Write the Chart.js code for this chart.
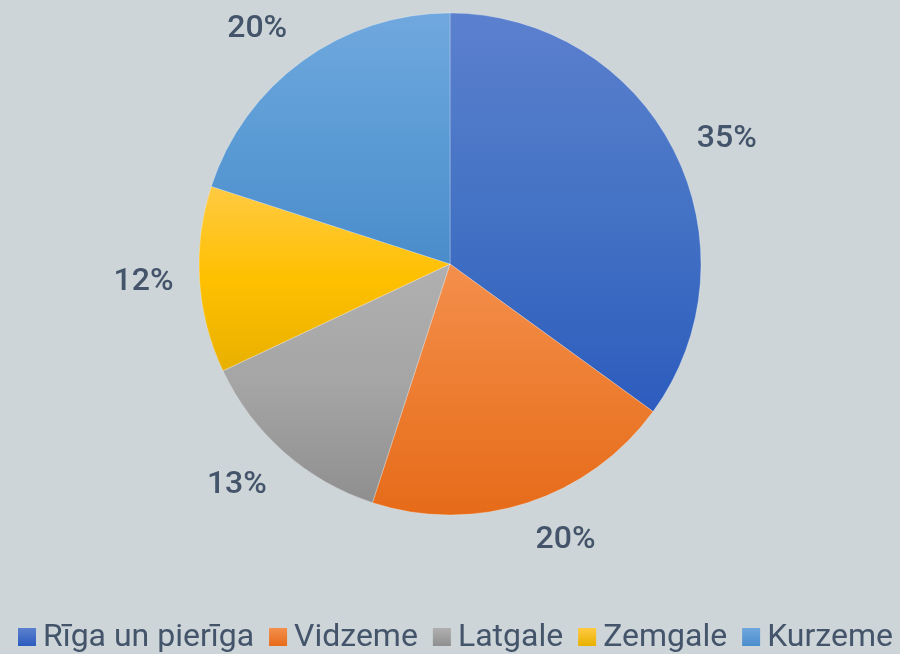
<!DOCTYPE html>
<html>
<head>
<meta charset="utf-8">
<script src="https://cdn.jsdelivr.net/npm/chart.js@4/dist/chart.umd.min.js"></script>
<style>
  html, body { margin: 0; padding: 0; background: #cdd5d8; }
  #wrap { width: 900px; height: 654px; }
</style>
</head>
<body>
<div id="wrap"><canvas id="myChart"></canvas></div>
<script>
const regions = ['Rīga un pierīga', 'Vidzeme', 'Latgale', 'Zemgale', 'Kurzeme'];
const shares = [35, 20, 13, 12, 20];
const topColors = ['#5b80ce', '#f48f4c', '#b0b0b0', '#ffca42', '#70a8de'];
const solidColors = ['#4472c4', '#ed7d31', '#a5a5a5', '#ffc000', '#5b9bd5'];
const bottomColors = ['#2c5cbe', '#e66b19', '#8f8f8f', '#e8b000', '#4a8ccb'];

const RADIUS = 251;
const textColor = '#44546a';

// vertical gradient across each slice's own height
function sliceGradient(ctx) {
    const chart = ctx.chart;
    const area = chart.chartArea;
    const i = ctx.dataIndex;
    if (!area) return solidColors[i];
    const cy = (area.top + area.bottom) / 2;
    const total = shares.reduce((a, b) => a + b, 0);
    let before = 0;
    for (let k = 0; k < i; k++) before += shares[k];
    const a0 = -Math.PI / 2 + before / total * Math.PI * 2;
    const a1 = a0 + shares[i] / total * Math.PI * 2;
    let ys = [cy, cy + RADIUS * Math.sin(a0), cy + RADIUS * Math.sin(a1)];
    [-Math.PI / 2, Math.PI / 2, Math.PI * 1.5].forEach(a => {
        if (a >= a0 && a <= a1) ys.push(cy + RADIUS * Math.sin(a));
    });
    const g = chart.ctx.createLinearGradient(0, Math.min(...ys), 0, Math.max(...ys));
    g.addColorStop(0, topColors[i]);
    g.addColorStop(0.5, solidColors[i]);
    g.addColorStop(1, bottomColors[i]);
    return g;
}

// percentages outside the pie, the label box touches a circle just outside the edge
const outsideLabels = {
    id: 'outsideLabels',
    afterDatasetsDraw(chart) {
        const ctx = chart.ctx;
        const meta = chart.getDatasetMeta(0);
        ctx.save();
        ctx.font = '500 32px Roboto';
        ctx.fillStyle = textColor;
        ctx.textAlign = 'center';
        ctx.textBaseline = 'middle';
        meta.data.forEach((arc, i) => {
            const txt = shares[i] + '%';
            const w = ctx.measureText(txt).width;
            const h = 24;
            const mid = (arc.startAngle + arc.endAngle) / 2;
            const r = arc.outerRadius + 26;
            const c = Math.cos(mid), s = Math.sin(mid);
            const dx = Math.abs(c) > 0.25 ? Math.sign(c) * w / 2 : c * w;
            const dy = Math.abs(s) > 0.6 ? Math.sign(s) * h / 2 : 0;
            ctx.fillText(txt, arc.x + r * c + dx, arc.y + r * s + dy + 1);
        });
        ctx.restore();
    }
};

// legend row at the bottom, small square then name
const bottomLegend = {
    id: 'bottomLegend',
    afterDraw(chart) {
        const ctx = chart.ctx;
        ctx.save();
        ctx.font = '32px Roboto';
        ctx.textBaseline = 'alphabetic';
        ctx.textAlign = 'left';
        const box = 18, gap = 7, space = 15;
        const widths = regions.map(t => ctx.measureText(t).width);
        let total = widths.reduce((a, b) => a + b, 0) + regions.length * (box + gap) + (regions.length - 1) * space;
        let x = Math.round((chart.width - total) / 2) + 5;
        const baseY = 646;
        regions.forEach((name, i) => {
            const g = ctx.createLinearGradient(0, baseY - box, 0, baseY);
            g.addColorStop(0, topColors[i]);
            g.addColorStop(1, bottomColors[i]);
            ctx.fillStyle = g;
            ctx.fillRect(x, baseY - box, box, box);
            ctx.fillStyle = textColor;
            ctx.fillText(name, x + box + gap, baseY);
            x += box + gap + widths[i] + space;
        });
        ctx.restore();
    }
};

new Chart(document.getElementById('myChart'), {
    type: 'pie',
    data: {
        labels: regions,
        datasets: [{
            data: shares,
            backgroundColor: sliceGradient,
            borderColor: 'rgba(255,255,255,0.25)',
            borderWidth: 1
        }]
    },
    options: {
        responsive: true,
        maintainAspectRatio: false,
        animation: false,
        radius: RADIUS,
        layout: { padding: { top: 0, left: 0, right: 0, bottom: 126 } },
        plugins: {
            tooltip: { enabled: false },
            legend: { display: false }
        }
    },
    plugins: [outsideLabels, bottomLegend]
});
</script>
</body>
</html>
